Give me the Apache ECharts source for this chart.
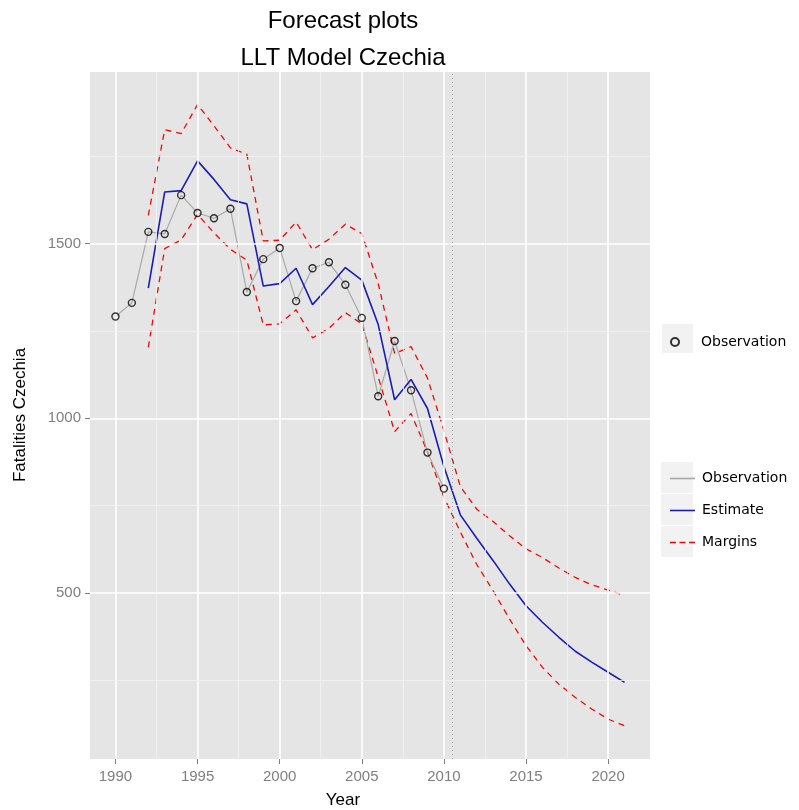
<!DOCTYPE html>
<html>
<head>
<meta charset="utf-8">
<script src="https://cdn.jsdelivr.net/npm/echarts@6/dist/echarts.min.js"></script>
<style>html,body{margin:0;padding:0;background:#fff;}#c{width:799px;height:810px;}</style>
</head>
<body>
<div id="c"></div>
<script>
// ---- data ----
var obsYears = [1990,1991,1992,1993,1994,1995,1996,1997,1998,1999,2000,2001,2002,2003,2004,2005,2006,2007,2008,2009,2010];
var observations = [1291,1330,1533,1527,1638,1587,1572,1599,1361,1455,1487,1335,1429,1446,1382,1287,1063,1221,1080,902,799];
var estYears = [1992,1993,1994,1995,1996,1997,1998,1999,2000,2001,2002,2003,2004,2005,2006,2007,2008,2009,2010,2011,2012,2013,2014,2015,2016,2017,2018,2019,2020,2021];
var estimate = [1372,1647,1651,1736,1683,1625,1613,1378,1385,1429,1325,1377,1431,1395,1268,1053,1111,1028,862,724,657,593,526,464,417,374,334,303,274,245];
var upperMargin = [1580,1825,1814,1897,1836,1773,1755,1507,1509,1561,1482,1512,1555,1528,1385,1185,1205,1115,965,805,740,705,664,627,602,572,545,524,509,493];
var lowerMargin = [1203,1485,1510,1583,1530,1483,1452,1267,1270,1310,1230,1257,1302,1270,1118,962,1014,904,775,675,582,507,426,350,288,240,202,169,140,121];
var xTicks = [1990,1995,2000,2005,2010,2015,2020];
var xMinor = [1992.5,1997.5,2002.5,2007.5,2012.5,2017.5];
var yTicks = [500,1000,1500];
var yMinor = [250,750,1250,1750];
var forecastStart = 2010.5;

function pairs(xs, ys){ return xs.map(function(x,i){ return [x, ys[i]]; }); }

var gridLines = [];
xTicks.forEach(function(v){ gridLines.push({xAxis:v, lineStyle:{color:'#ffffff', width:1.6, type:'solid'}}); });
xMinor.forEach(function(v){ gridLines.push({xAxis:v, lineStyle:{color:'#f2f2f2', width:0.8, type:'solid'}}); });
yTicks.forEach(function(v){ gridLines.push({yAxis:v, lineStyle:{color:'#ffffff', width:1.6, type:'solid'}}); });
yMinor.forEach(function(v){ gridLines.push({yAxis:v, lineStyle:{color:'#f2f2f2', width:0.8, type:'solid'}}); });

var chart = echarts.init(document.getElementById('c'), null, {renderer:'canvas'});
var font = 'Liberation Sans, Arial, sans-serif';
var lineIcon = 'path://M0,0h25v1.6h-25z';
var dashIcon = 'path://M0,0h6v1.6h-6z M9.5,0h6v1.6h-6z M19,0h6v1.6h-6z';
var option = {
  animation:false,
  backgroundColor:'#ffffff',
  grid:{left:90, right:149, top:72, bottom:51, show:true, backgroundColor:'#e5e5e5', borderWidth:0},
  xAxis:{type:'value', min:1988.45, max:2022.55,
    axisLine:{show:false},
    axisTick:{show:true, customValues:xTicks, length:5, lineStyle:{color:'#7f7f7f', width:1}},
    axisLabel:{customValues:xTicks, color:'#7f7f7f', fontSize:15, fontFamily:font, margin:10,
      formatter:function(v){ return String(v); }},
    splitLine:{show:false}},
  yAxis:{type:'value', min:26, max:1990,
    axisLine:{show:false},
    axisTick:{show:true, customValues:yTicks, length:5, lineStyle:{color:'#7f7f7f', width:1}},
    axisLabel:{customValues:yTicks, color:'#7f7f7f', fontSize:15, fontFamily:font, margin:9,
      formatter:function(v){ return String(v); }},
    splitLine:{show:false}},
  legend:[
    {orient:'vertical', left:665, top:330, itemWidth:8, itemHeight:8,
     data:['Observation'], selectedMode:false,
     textStyle:{color:'#000', fontSize:14, fontFamily:'DejaVu Sans', padding:[0,0,0,17]}},
    {orient:'vertical', left:665, top:465, itemWidth:25, itemHeight:17, itemGap:15,
     data:[{name:'Observation ', icon:lineIcon},{name:'Estimate', icon:lineIcon},{name:'Margins', icon:dashIcon}],
     selectedMode:false,
     formatter:function(n){ return n.trim(); },
     textStyle:{color:'#000', fontSize:14, fontFamily:'DejaVu Sans', lineHeight:17, padding:[0,0,0,2]}}
  ],
  graphic:[
    {type:'rect', left:662, top:324, shape:{width:31, height:29}, style:{fill:'#f2f2f2'}, z:-1},
    {type:'rect', left:661, top:462, shape:{width:32, height:31}, style:{fill:'#f2f2f2'}, z:-1},
    {type:'rect', left:661, top:494, shape:{width:32, height:31}, style:{fill:'#f2f2f2'}, z:-1},
    {type:'rect', left:661, top:526, shape:{width:32, height:31}, style:{fill:'#f2f2f2'}, z:-1},
    {type:'text', x:343, y:21, style:{text:'Forecast plots', fill:'#000', font:'24px '+font, textAlign:'center', textVerticalAlign:'middle'}},
    {type:'text', x:343, y:58, style:{text:'LLT Model Czechia', fill:'#000', font:'24px '+font, textAlign:'center', textVerticalAlign:'middle'}},
    {type:'text', x:343, y:800, style:{text:'Year', fill:'#000', font:'17px '+font, textAlign:'center', textVerticalAlign:'middle'}},
    {type:'text', x:20, y:415, rotation:Math.PI/2, style:{text:'Fatalities Czechia', fill:'#000', font:'17px '+font, textAlign:'center', textVerticalAlign:'middle'}}
  ],
  series:[
    {name:'gridlines', type:'line', data:[], z:1, silent:true,
     markLine:{symbol:'none', silent:true, animation:false, label:{show:false}, data:gridLines}},
    {name:'forecastStart', type:'line', data:[], z:1, silent:true,
     markLine:{symbol:'none', silent:true, animation:false, label:{show:false},
       data:[{xAxis:forecastStart, lineStyle:{color:'#a6a6a6', width:1, type:[1,3]}}]}},
    {name:'Margins', type:'line', data:pairs(estYears, upperMargin), symbol:'none', z:3,
     lineStyle:{color:'#ff0000', width:1.3, type:[6,5]}, itemStyle:{color:'#ff0000'}},
    {name:'Margins', type:'line', data:pairs(estYears, lowerMargin), symbol:'none', z:3,
     lineStyle:{color:'#ff0000', width:1.3, type:[6,5]}, itemStyle:{color:'#ff0000'}},
    {name:'Observation ', type:'line', data:pairs(obsYears, observations), symbol:'none', z:3,
     lineStyle:{color:'#a8a8a8', width:1.2}, itemStyle:{color:'#a8a8a8'}},
    {name:'Estimate', type:'line', data:pairs(estYears, estimate), symbol:'none', z:4,
     lineStyle:{color:'#1c1cb4', width:1.6}, itemStyle:{color:'#1c1cb4'}},
    {name:'Observation', type:'scatter', data:pairs(obsYears, observations), symbol:'circle', symbolSize:7, z:5,
     itemStyle:{color:'rgba(0,0,0,0)', borderColor:'#000', borderWidth:1.4}}
  ]
};
chart.setOption(option);
</script>
</body>
</html>
